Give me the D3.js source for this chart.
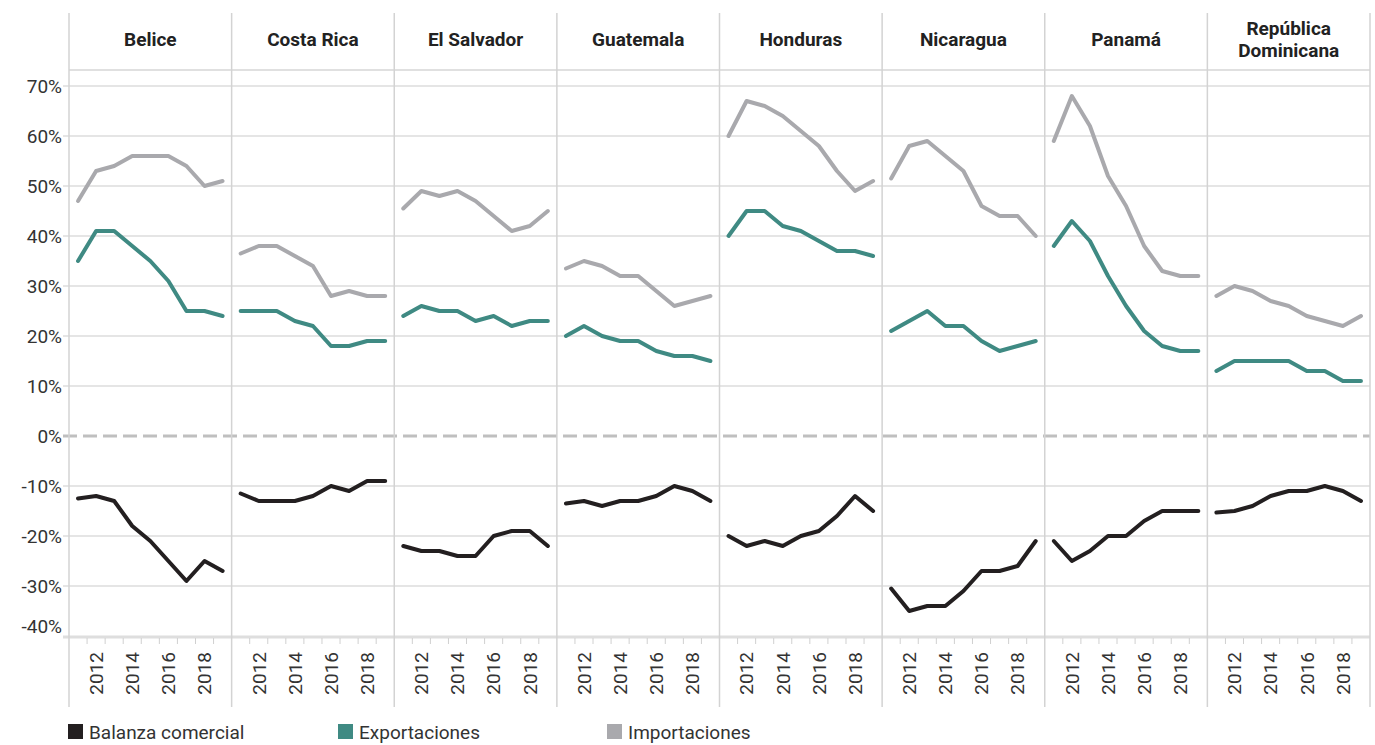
<!DOCTYPE html>
<html>
<head>
<meta charset="utf-8">
<script src="https://cdn.jsdelivr.net/npm/d3@7"></script>
<style>
  body { margin: 0; background: #fff; }
  svg { display: block; font-family: Roboto, "Noto Sans", sans-serif; }
</style>
</head>
<body>
<div id="chart"></div>
<script>
// paises y años
const countries = ['Belice', 'Costa Rica', 'El Salvador', 'Guatemala', 'Honduras', 'Nicaragua', 'Panamá', 'República Dominicana'];
const years = [2011, 2012, 2013, 2014, 2015, 2016, 2017, 2018, 2019];
const yTicks = [-40, -30, -20, -10, 0, 10, 20, 30, 40, 50, 60, 70];
const yearLabels = [2012, 2014, 2016, 2018];

// % del PIB, una fila por pais (mismo orden que countries)
const importaciones = [
  [47, 53, 54, 56, 56, 56, 54, 50, 51],
  [36.5, 38, 38, 36, 34, 28, 29, 28, 28],
  [45.5, 49, 48, 49, 47, 44, 41, 42, 45],
  [33.5, 35, 34, 32, 32, 29, 26, 27, 28],
  [60, 67, 66, 64, 61, 58, 53, 49, 51],
  [51.5, 58, 59, 56, 53, 46, 44, 44, 40],
  [59, 68, 62, 52, 46, 38, 33, 32, 32],
  [28, 30, 29, 27, 26, 24, 23, 22, 24]
];
const exportaciones = [
  [35, 41, 41, 38, 35, 31, 25, 25, 24],
  [25, 25, 25, 23, 22, 18, 18, 19, 19],
  [24, 26, 25, 25, 23, 24, 22, 23, 23],
  [20, 22, 20, 19, 19, 17, 16, 16, 15],
  [40, 45, 45, 42, 41, 39, 37, 37, 36],
  [21, 23, 25, 22, 22, 19, 17, 18, 19],
  [38, 43, 39, 32, 26, 21, 18, 17, 17],
  [13, 15, 15, 15, 15, 13, 13, 11, 11]
];
const balanza = [
  [-12.5, -12, -13, -18, -21, -25, -29, -25, -27],
  [-11.5, -13, -13, -13, -12, -10, -11, -9, -9],
  [-22, -23, -23, -24, -24, -20, -19, -19, -22],
  [-13.5, -13, -14, -13, -13, -12, -10, -11, -13],
  [-20, -22, -21, -22, -20, -19, -16, -12, -15],
  [-30.5, -35, -34, -34, -31, -27, -27, -26, -21],
  [-21, -25, -23, -20, -20, -17, -15, -15, -15],
  [-15.3, -15, -14, -12, -11, -11, -10, -11, -13]
];

const seriesNames = ['Balanza comercial', 'Exportaciones', 'Importaciones'];
const seriesColors = ['#231f20', '#3f8a83', '#a9a9ad'];

const width = 1375, height = 745;
const left = 69, right = 1370, panelTop = 13, headTop = 70, bottom = 637, sepBottom = 707;
const pw = (right - left) / countries.length;

const svg = d3.select('#chart').append('svg')
  .attr('width', width)
  .attr('height', height);

const y = d3.scaleLinear().domain([-40.2, 73.2]).range([bottom, headTop]);
const x = d3.scaleLinear().domain([2010.5, 2019.5]).range([0, pw]);
const px = d3.scaleBand().domain(countries).range([left, right]);

// gridlines
svg.append('g')
  .selectAll('line')
  .data(yTicks.filter(d => d != 0 && d != -40))
  .join('line')
  .attr('x1', left - 6)
  .attr('x2', right)
  .attr('y1', d => y(d))
  .attr('y2', d => y(d))
  .style('stroke', '#dcdcdc')
  .style('stroke-width', 1.5);

// y labels
svg.append('g')
  .selectAll('text')
  .data(yTicks)
  .join('text')
  .attr('x', 62)
  .attr('y', d => d == -40 ? y(d) - 10 : y(d))
  .attr('dy', '0.36em')
  .attr('text-anchor', 'end')
  .style('font-size', '19px')
  .style('fill', '#333')
  .text(d => d + '%');

// header line + bottom axis
svg.append('line')
  .attr('x1', left).attr('x2', right)
  .attr('y1', headTop).attr('y2', headTop)
  .style('stroke', '#d6d6d6').style('stroke-width', 1.5);

svg.append('line')
  .attr('x1', left - 6).attr('x2', right)
  .attr('y1', bottom).attr('y2', bottom)
  .style('stroke', '#dedede').style('stroke-width', 3);

// zero line
svg.append('line')
  .attr('x1', left - 6).attr('x2', right)
  .attr('y1', y(0)).attr('y2', y(0))
  .style('stroke', '#bfbfbf')
  .style('stroke-width', 3)
  .style('stroke-dasharray', '14,6');

// panel separators
svg.append('g')
  .selectAll('line')
  .data(d3.range(countries.length + 1))
  .join('line')
  .attr('x1', i => left + i * pw)
  .attr('x2', i => left + i * pw)
  .attr('y1', panelTop)
  .attr('y2', sepBottom)
  .style('stroke', '#d3d3d3')
  .style('stroke-width', 1.5);

const line = d3.line()
  .x((d, i) => x(years[i]))
  .y(d => y(d));

countries.forEach((c, ci) => {
  const g = svg.append('g').attr('transform', `translate(${px(c)},0)`);

  // header (two lines for the long name)
  const words = c == 'República Dominicana' ? ['República', 'Dominicana'] : [c];
  g.selectAll('.head')
    .data(words)
    .join('text')
    .attr('class', 'head')
    .attr('x', pw / 2)
    .attr('y', (d, i) => words.length > 1 ? 28 + i * 22 : 39)
    .attr('dy', '0.35em')
    .attr('text-anchor', 'middle')
    .style('font-size', '19px')
    .style('font-weight', 'bold')
    .style('fill', '#222')
    .text(d => d);

  // x ticks
  g.selectAll('.tick')
    .data(years.slice(0, -1))
    .join('line')
    .attr('class', 'tick')
    .attr('x1', d => x(d + 0.5))
    .attr('x2', d => x(d + 0.5))
    .attr('y1', bottom + 1)
    .attr('y2', bottom + 7)
    .style('stroke', '#d0d0d0');

  g.selectAll('.yl')
    .data(yearLabels)
    .join('text')
    .attr('class', 'yl')
    .attr('transform', d => `translate(${x(d)},652) rotate(-90)`)
    .attr('text-anchor', 'end')
    .attr('dy', '0.36em')
    .style('font-size', '19px')
    .style('fill', '#333')
    .text(d => d);

  // series
  [importaciones, exportaciones, balanza].forEach((s, si) => {
    g.append('path')
      .datum(s[ci])
      .attr('d', line)
      .style('fill', 'none')
      .style('stroke', seriesColors[2 - si])
      .style('stroke-width', 4)
      .style('stroke-linejoin', 'round')
      .style('stroke-linecap', 'round');
  });
});

// legend
const legendX = [68, 338, 607];
const legend = svg.append('g')
  .selectAll('g')
  .data(seriesNames)
  .join('g')
  .attr('transform', (d, i) => `translate(${legendX[i]},724)`);

legend.append('rect')
  .attr('width', 15).attr('height', 15)
  .style('fill', (d, i) => seriesColors[i]);

legend.append('text')
  .attr('x', 21)
  .attr('y', 15)
  .style('font-size', '19px')
  .style('fill', '#333')
  .text(d => d);
</script>
</body>
</html>
